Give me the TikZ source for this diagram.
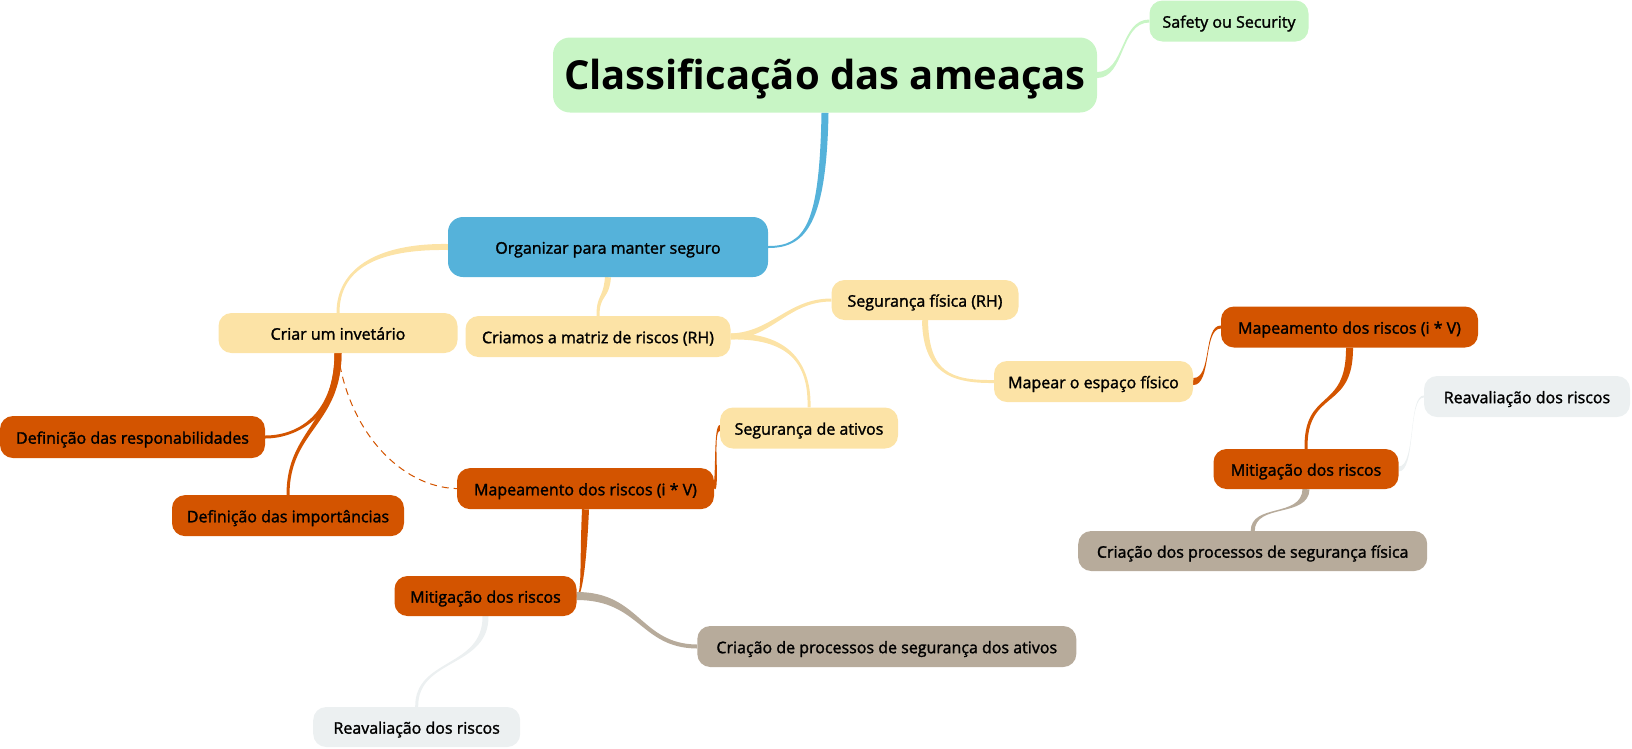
\documentclass[tikz,border=0pt]{standalone}
\usepackage{fontspec}
\setmainfont{Open Sans}
\newfontfamily\mmfont{Open Sans}[FakeBold=1.6]
\usetikzlibrary{calc}
\definecolor{cgreen}{HTML}{C8F5C5}
\definecolor{cblue}{HTML}{55B2DA}
\definecolor{cyel}{HTML}{FCE3A6}
\definecolor{corg}{HTML}{D35400}
\definecolor{ctau}{HTML}{B7AB9B}
\definecolor{cgry}{HTML}{ECF0F1}
\pgfdeclarelayer{bg}
\pgfsetlayers{bg,main}
\newcommand\mmconn[7]{%
  \path (#2) coordinate (S) (#3) coordinate (C1) (#4) coordinate (C2) (#5) coordinate (E);
  \coordinate (S1) at ($(S)!#6!90:(C1)$);
  \coordinate (S2) at ($(S)!#6!-90:(C1)$);
  \coordinate (E1) at ($(E)!#7!-90:(C2)$);
  \coordinate (E2) at ($(E)!#7!90:(C2)$);
  \fill[#1] (S1) .. controls ($(C1)+(S1)-(S)$) and ($(C2)+(E1)-(E)$) .. (E1)
    -- (E2) .. controls ($(C2)+(E2)-(E)$) and ($(C1)+(S2)-(S)$) .. (S2) -- cycle;
}
\tikzset{
  mm/.style={rounded corners=13pt, inner sep=0pt, font=\mmfont\fontsize{16}{19}\selectfont,
    text height=13.4pt, text depth=0pt, text=black, align=center},
  grn/.style={mm, fill=cgreen},
  blu/.style={mm, fill=cblue, rounded corners=15pt},
  yel/.style={mm, fill=cyel},
  org/.style={mm, fill=corg},
  tau/.style={mm, fill=ctau},
  gry/.style={mm, fill=cgry},
  sz/.style 2 args={minimum width=#1, minimum height=#2},
}
\begin{document}
\begin{tikzpicture}[x=1pt,y=-1pt]
\useasboundingbox (0,0) rectangle (1632,748);
% nodes
\node[grn, rounded corners=17pt, sz={544pt}{75pt}, font=\fontsize{40}{48}\selectfont\bfseries, text height=28.6pt] (title) at (825,75) {Classificação das ameaças};
\node[grn, sz={159pt}{41pt}] (safety) at (1229,21) {Safety ou Security};
\node[blu, sz={320pt}{60pt}] (org) at (608,247) {Organizar para manter seguro};
\node[yel, sz={239pt}{40pt}] (criar) at (338,333) {Criar um invetário};
\node[yel, sz={265pt}{41pt}] (matriz) at (598,336.5) {Criamos a matriz de riscos (RH)};
\node[yel, sz={187pt}{40pt}] (segf) at (925,300) {Segurança física (RH)};
\node[yel, sz={199pt}{41pt}] (mapear) at (1093.5,381.5) {Mapear o espaço físico};
\node[org, sz={257pt}{41pt}] (mapR) at (1349.5,327) {Mapeamento dos riscos (i * V)};
\node[gry, sz={206pt}{41pt}] (reavR) at (1527,396.5) {Reavaliação dos riscos};
\node[org, sz={185pt}{40pt}] (mitR) at (1306,469) {Mitigação dos riscos};
\node[tau, sz={349pt}{40pt}] (crF) at (1252.7,551) {Criação dos processos de segurança física};
\node[yel, sz={178pt}{41pt}] (sega) at (809,428) {Segurança de ativos};
\node[org, sz={257pt}{41pt}] (mapL) at (585.5,488.6) {Mapeamento dos riscos (i * V)};
\node[org, sz={265pt}{42pt}] (defR) at (132.5,437) {Definição das responabilidades};
\node[org, sz={232pt}{41pt}] (defI) at (288,515.6) {Definição das importâncias};
\node[org, sz={182pt}{40pt}] (mitL) at (485.5,596) {Mitigação dos riscos};
\node[tau, sz={379pt}{41pt}] (crA) at (886.8,646.5) {Criação de processos de segurança dos ativos};
\node[gry, sz={207pt}{40pt}] (reavL) at (416.7,727) {Reavaliação dos riscos};
% connectors
\begin{pgfonlayer}{bg}
\mmconn{cgreen}{title.east}{1125,75}{1120,21}{safety.west}{3pt}{1.5pt}
\mmconn{cblue}{title.south}{823,225}{805,247}{org.east}{3.5pt}{1pt}
\mmconn{cyel}{org.west}{375,246}{338,270}{criar.north}{3pt}{1.5pt}
\mmconn{cyel}{org.south}{606,300}{598,294}{matriz.north}{3pt}{1.5pt}
\mmconn{cyel}{matriz.east}{772,335}{788,300}{segf.west}{3pt}{1.5pt}
\mmconn{cyel}{matriz.east}{795,335}{810,370}{sega.north}{3pt}{1.5pt}
\mmconn{cyel}{segf.south}{926,372}{950,382}{mapear.west}{3pt}{1.5pt}
\mmconn{corg}{mapear.east}{1212,382}{1203,327}{mapR.west}{3.5pt}{1.5pt}
\mmconn{corg}{mapR.south}{1350,412}{1305,388}{mitR.north}{3.5pt}{1.5pt}
\mmconn{cgry}{mitR.east}{1416,469}{1408,396}{reavR.west}{2.5pt}{1pt}
\mmconn{ctau}{mitR.south}{1305,518}{1253,503}{crF.north}{3.5pt}{2pt}
\mmconn{corg}{sega.west}{713,428}{718,480}{mapL.east}{3pt}{1.5pt}
\mmconn{corg}{mapL.south}{583,565}{582,596}{mitL.east}{3.5pt}{1.5pt}
\mmconn{ctau}{mitL.east}{640,596}{640,646}{crA.west}{4pt}{2pt}
\mmconn{cgry}{mitL.south}{486,668}{416,658}{reavL.north}{3pt}{1.5pt}
\mmconn{corg}{criar.south}{338,412}{300,437}{defR.east}{3.5pt}{1.5pt}
\mmconn{corg}{criar.south}{338,425}{288,430}{defI.north}{3.5pt}{1.5pt}
\draw[corg, line width=1pt, dash pattern=on 7pt off 5pt] (criar.south) .. controls (348,430) and (400,487) .. (mapL.west);
\end{pgfonlayer}
\end{tikzpicture}
\end{document}
